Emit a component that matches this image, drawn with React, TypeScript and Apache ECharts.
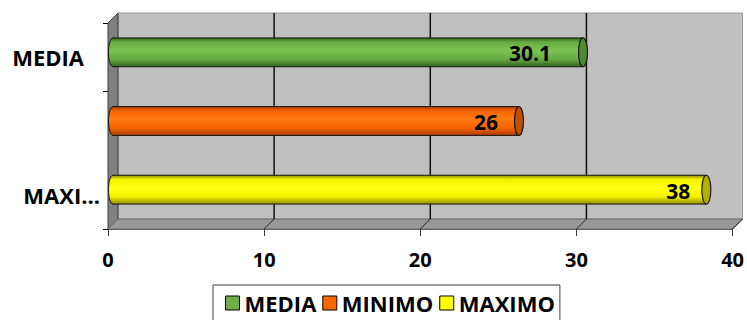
import React, { useEffect, useRef } from "react";
import * as echarts from "echarts";

// Categories on the vertical axis, bottom to top
const categories = ["MAXIMO", "MINIMO", "MEDIA"];
// One series per statistic, in legend order
const seriesNames = ["MEDIA", "MINIMO", "MAXIMO"];
const seriesValues = [30.1, 26, 38];
const xTicks = [0, 10, 20, 30, 40];

const FONT = '"Open Sans", "DejaVu Sans", sans-serif';
const DEPTH = 10; // 3D depth offset of the back wall

// Cylinder colouring per series
const palettes: Record<string, { dark: string; base: string; light: string; cap: string; swatch: string; labelGap: number }> = {
  MEDIA: { dark: "#34601c", base: "#67a943", light: "#7ec352", cap: "#4f8a2f", swatch: "#70ad47", labelGap: 32 },
  MINIMO: { dark: "#a83c00", base: "#f46300", light: "#ff7a12", cap: "#bf4f00", swatch: "#ff6600", labelGap: 21 },
  MAXIMO: { dark: "#8f8a00", base: "#f2f200", light: "#ffff10", cap: "#b3ae00", swatch: "#ffff00", labelGap: 16 },
};

function cylinderRenderer(name: string) {
  const pal = palettes[name];
  return (params: any, api: any) => {
    const v = api.value(0);
    const c = api.value(1);
    const p0 = api.coord([0, c]);
    const p1 = api.coord([v, c]);
    const band = api.size([0, 1])[1];
    const h = band * 0.42;
    const ry = h / 2;
    const rx = 4.5;
    const x0 = p0[0] + DEPTH / 2;
    const x1 = p1[0] + DEPTH / 2;
    const cy = p0[1] - DEPTH / 2;
    const grad = new echarts.graphic.LinearGradient(0, 0, 0, 1, [
      { offset: 0, color: pal.dark },
      { offset: 0.14, color: pal.base },
      { offset: 0.42, color: pal.light },
      { offset: 0.75, color: pal.base },
      { offset: 1, color: pal.dark },
    ]);
    const edge = "#151515";
    return {
      type: "group",
      children: [
        { type: "ellipse", shape: { cx: x0, cy, rx, ry }, style: { fill: grad, stroke: edge, lineWidth: 1 } },
        { type: "rect", shape: { x: x0, y: cy - ry, width: x1 - x0, height: h }, style: { fill: grad } },
        { type: "line", shape: { x1: x0, y1: cy - ry, x2: x1, y2: cy - ry }, style: { stroke: edge, lineWidth: 1 } },
        { type: "line", shape: { x1: x0, y1: cy + ry, x2: x1, y2: cy + ry }, style: { stroke: edge, lineWidth: 1 } },
        { type: "ellipse", shape: { cx: x1, cy, rx, ry }, style: { fill: pal.cap, stroke: edge, lineWidth: 1.2 } },
        {
          type: "text",
          style: {
            text: String(v),
            x: x1 - pal.labelGap,
            y: cy + 1,
            align: "right",
            verticalAlign: "middle",
            font: `bold 21px ${FONT}`,
            fill: "#000",
          },
        },
      ],
    };
  };
}

// Back wall, side wall, floor and the gridlines drawn on them
function wallsRenderer(params: any, api: any) {
  const cs = params.coordSys;
  const t = api.value(0);
  const px = api.coord([t, 0])[0];
  const top = cs.y;
  const bottom = cs.y + cs.height;
  const left = cs.x;
  const right = cs.x + cs.width;
  const D = DEPTH;
  const children: any[] = [];
  if (params.dataIndex === 0) {
    children.push(
      {
        type: "rect",
        shape: { x: left + D, y: top - D, width: cs.width, height: cs.height },
        style: { fill: "#c0c0c0", stroke: "#9a9a9a", lineWidth: 1 },
      },
      {
        type: "polygon",
        shape: { points: [[left, top], [left + D, top - D], [left + D, bottom - D], [left, bottom]] },
        style: { fill: "#808080", stroke: "#3a3a3a", lineWidth: 1 },
      },
      {
        type: "polygon",
        shape: { points: [[left, bottom], [left + D, bottom - D], [right + D, bottom - D], [right, bottom]] },
        style: { fill: "#999999", stroke: "#6a6a6a", lineWidth: 1 },
      }
    );
  }
  if (t > xTicks[0] && t < xTicks[xTicks.length - 1]) {
    children.push({
      type: "line",
      shape: { x1: px + D, y1: top - D, x2: px + D, y2: bottom - D },
      style: { stroke: "#111", lineWidth: 1.5 },
    });
  }
  if (t > xTicks[0]) {
    children.push({
      type: "line",
      shape: { x1: px + D, y1: bottom - D, x2: px, y2: bottom },
      style: { stroke: "#222", lineWidth: 1 },
    });
  }
  return { type: "group", children };
}

export default function App() {
  const ref = useRef<HTMLDivElement>(null);

  useEffect(() => {
    document.body.style.margin = "0";
    const chart = echarts.init(ref.current!, undefined, { renderer: "svg" });

    const barSeries = seriesNames.map((name, i) => ({
      type: "custom",
      name,
      z: 3,
      itemStyle: { color: palettes[name].swatch },
      encode: { x: 0, y: 1 },
      data: [[seriesValues[i], categories.indexOf(name)]],
      renderItem: cylinderRenderer(name),
    }));

    chart.setOption({
      animation: false,
      backgroundColor: "#ffffff",
      grid: { left: 108, right: 14, top: 23, bottom: 91, containLabel: false },
      xAxis: {
        type: "value",
        min: xTicks[0],
        max: xTicks[xTicks.length - 1],
        interval: 10,
        splitLine: { show: false },
        axisLine: { show: true, lineStyle: { color: "#5a5a5a", width: 1 } },
        axisTick: { show: true, length: 7, lineStyle: { color: "#333" } },
        axisLabel: {
          margin: 20,
          fontFamily: FONT,
          fontWeight: "bold",
          fontSize: 20,
          color: "#000",
        },
      },
      yAxis: {
        type: "category",
        data: categories,
        axisLine: { show: true, lineStyle: { color: "#000", width: 1 } },
        axisTick: { show: true, length: 5, lineStyle: { color: "#000" } },
        axisLabel: {
          margin: 8,
          interval: (index: number) => index !== 1,
          width: 86,
          overflow: "truncate",
          ellipsis: "...",
          fontFamily: FONT,
          fontWeight: "bold",
          fontSize: 22,
          color: "#000",
          formatter: (value: string, index: number) => (index === 2 ? `{pad|${value}}` : value),
          rich: {
            pad: { fontFamily: FONT, fontWeight: "bold", fontSize: 22, color: "#000", padding: [0, 16, 0, 0] },
          },
        },
      },
      legend: {
        top: 285,
        left: 213,
        orient: "horizontal",
        padding: [6, 5, 14, 12],
        borderColor: "#3c3c3c",
        borderWidth: 1,
        itemWidth: 14,
        itemHeight: 14,
        itemGap: 6,
        textStyle: { fontFamily: FONT, fontWeight: "bold", fontSize: 22, color: "#000", lineHeight: 24 },
        data: seriesNames.map((name) => ({
          name,
          icon: "rect",
          itemStyle: { color: palettes[name].swatch, borderColor: "#000", borderWidth: 1 },
        })),
      },
      series: [
        {
          type: "custom",
          name: "walls",
          z: 1,
          silent: true,
          encode: { x: 0, y: 1 },
          data: xTicks.map((t) => [t, 0]),
          renderItem: wallsRenderer,
        },
        ...barSeries,
      ],
    });

    return () => chart.dispose();
  }, []);

  return <div ref={ref} style={{ width: 747, height: 320 }} />;
}
